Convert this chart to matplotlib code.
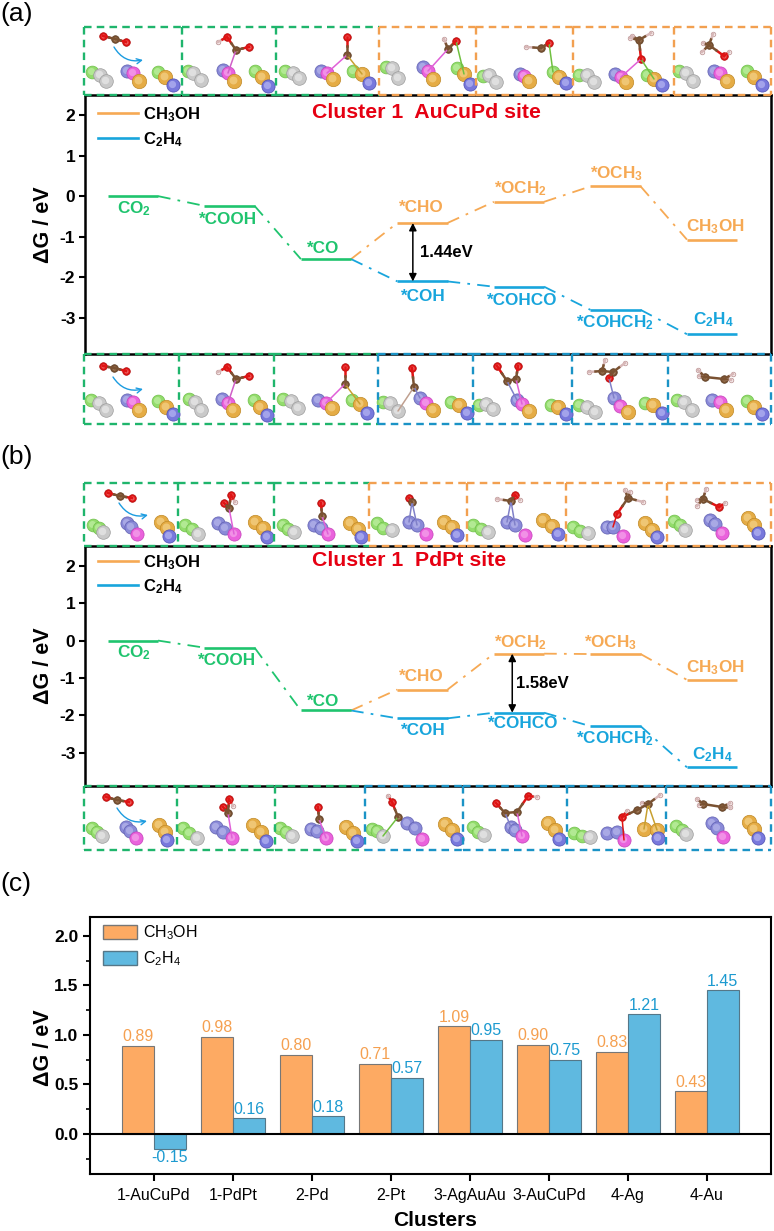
import matplotlib
matplotlib.use('Agg')
import matplotlib.pyplot as plt
from matplotlib.patches import Patch

plt.rcParams['font.family'] = ['Liberation Sans', 'DejaVu Sans']
plt.rcParams['mathtext.default'] = 'regular'

W, H = 774, 1231

# energy profiles (eV)
G_A_COMMON = [0.0, -0.24, -1.55]
G_A_CH3OH = [-0.66, -0.14, 0.24, -1.07]
G_A_C2H4 = [-2.10, -2.23, -2.80, -3.40]
G_B_COMMON = [0.0, -0.19, -1.87]
G_B_CH3OH = [-1.31, -0.35, -0.36, -1.05]
G_B_C2H4 = [-2.08, -1.93, -2.29, -3.39]

COMMON_NAMES = ['CO$_2$', '*COOH', '*CO']
CH3OH_NAMES = ['*CHO', '*OCH$_2$', '*OCH$_3$', 'CH$_3$OH']
C2H4_NAMES = ['*COH', '*COHCO', '*COHCH$_2$', 'C$_2$H$_4$']

# label offsets from the level centre, pixels, + is down
OFF_A_COMMON = [(1, 13), (-1.5, 14), (-3, -11)]
OFF_A_CH3OH = [(-1, -15), (1, -13), (1.5, -13), (3, -13)]
OFF_A_C2H4 = [(0.5, 15), (3, 14), (-0.5, 13), (1, -15)]
OFF_B_COMMON = [(1, 12), (-2.5, 13), (-3, -9)]
OFF_B_CH3OH = [(-1, -13), (1, -11), (-4.5, -11), (3, -12)]
OFF_B_C2H4 = [(0.5, 12), (4, 11), (-0.5, 12), (0, -13)]

# panel c
CLUSTERS = ['1-AuCuPd', '1-PdPt', '2-Pd', '2-Pt', '3-AgAuAu', '3-AuCuPd', '4-Ag', '4-Au']
DG_CH3OH = [0.89, 0.98, 0.80, 0.71, 1.09, 0.90, 0.83, 0.43]
DG_C2H4 = [-0.15, 0.16, 0.18, 0.57, 0.95, 0.75, 1.21, 1.45]

GREEN = '#1fc46e'
ORANGE = '#f6a954'
BLUE = '#18a5dc'
BOX_GREEN = '#1fb56c'
BOX_ORANGE = '#f2a050'
BOX_BLUE = '#1b93c6'

# dashed boxes round the structures: edges in pixels
A_TOP_EDGES = [84, 182, 276, 379, 476, 573, 674, 771]
A_BOT_EDGES = [84, 179, 274, 378, 473, 572, 668, 771]
B_TOP_EDGES = [84, 178, 274, 369, 467, 566, 667, 771]
B_BOT_EDGES = [84, 177, 275, 365, 463, 567, 666, 771]

# atom look: (face, rim, highlight, radius in px)
KINDS = {
    'g': ('#93dc6c', '#6fbf4a', '#cdf5b4', 6.4),
    's': ('#c9c9c9', '#9c9c9c', '#f2f2f2', 6.8),
    'p': ('#8a8ad8', '#5f5fb0', '#c4c4f0', 6.6),
    'm': ('#ea62dc', '#c440b8', '#f8b8f0', 6.6),
    'y': ('#e5ac45', '#c08a28', '#f8dc9c', 7.2),
    'b': ('#7878dc', '#4c4cb0', '#c8c8f8', 6.6),
    'C': ('#7a5232', '#5a3a20', '#c8a888', 3.8),
    'O': ('#e01414', '#b00808', '#f8a0a0', 3.8),
    'H': ('#f4e4e4', '#b89090', '#ffffff', 2.3),
}

A_TOP_METALS = [
    ('g', 92, 72), ('s', 100, 75), ('s', 106, 81), ('p', 127, 71), ('m', 133, 73), ('y', 139, 81),
    ('g', 158, 72), ('y', 165, 77), ('b', 173, 85),
    ('g', 188, 71), ('s', 193, 73), ('s', 201, 80), ('p', 223, 70), ('m', 228, 73), ('y', 234, 81),
    ('g', 255, 71), ('y', 262, 77), ('b', 268, 86),
    ('g', 285, 71), ('s', 293, 73), ('s', 299, 78), ('p', 321, 71), ('m', 327, 73), ('y', 333, 79),
    ('g', 353, 71), ('y', 362, 74), ('b', 369, 83),
    ('g', 386, 67), ('s', 392, 68), ('s', 398, 78), ('p', 423, 67), ('m', 428, 71), ('y', 433, 79),
    ('g', 457, 68), ('y', 464, 74), ('b', 470, 84),
    ('g', 483, 76), ('s', 489, 75), ('s', 496, 82), ('p', 520, 74), ('m', 524, 76), ('y', 529, 81),
    ('g', 553, 72), ('y', 559, 77), ('b', 566, 83),
    ('g', 579, 75), ('s', 587, 75), ('s', 594, 82), ('p', 615, 74), ('m', 621, 77), ('y', 626, 82),
    ('g', 647, 75), ('y', 654, 79), ('b', 662, 85),
    ('g', 679, 71), ('s', 686, 73), ('s', 693, 81), ('p', 714, 71), ('m', 720, 73), ('y', 727, 81),
    ('g', 747, 71), ('y', 754, 77), ('b', 762, 85),
]
A_TOP_ADS = [
    [('O', 103, 36), ('C', 115, 39), ('O', 126, 42)],
    [('H', 218, 42), ('O', 227, 37), ('C', 236, 50), ('O', 249, 47)],
    [('C', 347, 55), ('O', 347, 37)],
    [('C', 448, 49), ('O', 456, 41), ('H', 444, 39)],
    [('H', 526, 47), ('C', 541, 48), ('O', 549, 43)],
    [('O', 641, 59), ('C', 639, 40), ('H', 632, 36), ('H', 651, 33), ('H', 630, 38)],
    [('C', 709, 45), ('O', 724, 56), ('H', 713, 34), ('H', 703, 43), ('H', 729, 52), ('H', 702, 52)],
]
A_TOP_LINKS = [
    (236, 50, 228, 73, '#d060c8'), (347, 55, 327, 73, '#e060d8'), (347, 55, 362, 74, '#c8a030'),
    (448, 49, 428, 71, '#e060d8'), (456, 41, 464, 74, '#70c040'), (549, 43, 553, 72, '#70c040'),
    (641, 59, 621, 77, '#e060d8'), (641, 59, 654, 79, '#70c040'),
]

A_BOT_METALS = [
    ('g', 91, 400), ('s', 99, 403), ('s', 106, 410), ('p', 127, 400), ('m', 133, 402), ('y', 139, 410),
    ('g', 158, 401), ('y', 166, 407), ('b', 173, 414),
    ('g', 189, 399), ('s', 195, 402), ('s', 201, 410), ('p', 222, 399), ('m', 228, 403), ('y', 233, 410),
    ('g', 254, 400), ('y', 260, 407), ('b', 267, 415),
    ('g', 283, 399), ('s', 291, 401), ('s', 298, 408), ('p', 318, 400), ('m', 326, 403), ('y', 332, 408),
    ('g', 352, 400), ('y', 360, 404), ('b', 367, 413),
    ('g', 383, 402), ('s', 390, 403), ('s', 398, 411), ('p', 420, 398), ('m', 426, 403), ('y', 433, 410),
    ('g', 451, 402), ('y', 459, 405), ('b', 467, 413),
    ('g', 479, 405), ('s', 486, 404), ('s', 493, 409), ('p', 517, 400), ('m', 522, 404), ('y', 529, 411),
    ('g', 551, 405), ('y', 558, 407), ('b', 566, 414),
    ('g', 579, 405), ('s', 587, 407), ('s', 595, 412), ('p', 614, 398), ('m', 620, 406), ('y', 628, 412),
    ('g', 645, 403), ('y', 653, 405), ('b', 662, 413),
    ('g', 677, 400), ('s', 684, 402), ('s', 692, 410), ('p', 712, 400), ('m', 720, 402), ('y', 726, 410),
    ('g', 747, 401), ('y', 754, 407), ('b', 762, 414),
]
A_BOT_ADS = [
    [('O', 103, 366), ('C', 114, 368), ('O', 126, 371)],
    [('H', 218, 372), ('O', 227, 367), ('C', 236, 379), ('O', 249, 376)],
    [('C', 345, 384), ('O', 345, 367)],
    [('C', 414, 387), ('O', 412, 368)],
    [('C', 507, 381), ('C', 516, 379), ('O', 497, 366), ('O', 518, 366)],
    [('H', 589, 372), ('C', 602, 371), ('H', 605, 360), ('C', 613, 372), ('H', 625, 363), ('O', 609, 378)],
    [('H', 698, 370), ('H', 699, 376), ('C', 705, 377), ('C', 724, 379), ('H', 733, 374), ('H', 731, 380)],
]
A_BOT_LINKS = [
    (236, 379, 228, 403, '#d060c8'), (345, 384, 326, 403, '#e060d8'), (345, 384, 360, 404, '#c8a030'),
    (414, 387, 420, 398, '#8080c8'), (414, 387, 398, 411, '#c0a090'),
    (507, 381, 517, 400, '#8080c8'), (516, 379, 522, 404, '#e060d8'), (609, 378, 614, 398, '#8080c8'),
]

B_TOP_METALS = [
    ('g', 93, 525), ('g', 99, 528), ('s', 103, 532), ('p', 127, 523), ('p', 131, 527), ('m', 137, 534),
    ('y', 161, 522), ('y', 167, 528), ('b', 169, 536),
    ('g', 185, 525), ('g', 192, 529), ('s', 198, 534), ('p', 218, 523), ('p', 225, 528), ('m', 234, 534),
    ('y', 255, 522), ('y', 263, 528), ('b', 267, 537),
    ('g', 283, 525), ('g', 288, 529), ('s', 294, 532), ('p', 314, 525), ('p', 321, 528), ('m', 328, 534),
    ('y', 350, 523), ('y', 358, 529), ('b', 361, 537),
    ('g', 377, 523), ('g', 383, 528), ('s', 392, 530), ('p', 409, 522), ('p', 417, 525), ('m', 426, 534),
    ('y', 444, 522), ('y', 452, 527), ('b', 457, 535),
    ('g', 473, 525), ('g', 481, 529), ('s', 488, 532), ('p', 507, 522), ('p', 515, 525), ('m', 525, 535),
    ('y', 543, 520), ('y', 552, 526), ('b', 558, 534),
    ('g', 573, 527), ('g', 580, 531), ('s', 588, 533), ('p', 607, 527), ('p', 613, 527), ('m', 623, 536),
    ('y', 645, 523), ('y', 652, 530), ('b', 657, 537),
    ('g', 674, 521), ('g', 680, 525), ('s', 685, 530), ('p', 710, 520), ('p', 715, 524), ('m', 722, 533),
    ('y', 748, 518), ('y', 754, 525), ('b', 758, 533),
]
B_TOP_ADS = [
    [('O', 108, 493), ('C', 120, 496), ('O', 132, 498)],
    [('C', 229, 508), ('O', 224, 503), ('O', 231, 495), ('H', 235, 502)],
    [('C', 322, 516), ('O', 321, 503)],
    [('O', 409, 498), ('C', 412, 502)],
    [('H', 497, 499), ('C', 511, 501), ('H', 520, 500), ('O', 515, 495)],
    [('O', 617, 514), ('C', 628, 498), ('H', 625, 490), ('H', 643, 502), ('H', 630, 492)],
    [('C', 703, 499), ('O', 719, 507), ('H', 706, 489), ('H', 697, 500), ('H', 697, 506), ('H', 725, 503)],
]
B_TOP_LINKS = [
    (229, 508, 234, 534, '#e060d8'), (322, 516, 328, 534, '#e060d8'), (412, 502, 409, 522, '#8080c8'),
    (412, 502, 417, 525, '#8080c8'), (511, 501, 507, 522, '#8080c8'), (511, 501, 515, 525, '#8080c8'),
    (617, 514, 613, 527, '#e01414'),
]

B_BOT_METALS = [
    ('g', 92, 828), ('g', 97, 832), ('s', 102, 836), ('p', 126, 827), ('p', 130, 831), ('m', 136, 838),
    ('y', 159, 825), ('y', 165, 832), ('b', 167, 840),
    ('g', 183, 828), ('g', 189, 833), ('s', 197, 838), ('p', 216, 827), ('p', 223, 832), ('m', 232, 838),
    ('y', 253, 825), ('y', 261, 832), ('b', 266, 841),
    ('g', 280, 828), ('g', 286, 832), ('s', 292, 836), ('p', 311, 829), ('p', 317, 831), ('m', 326, 838),
    ('y', 346, 827), ('y', 353, 833), ('b', 357, 841),
    ('g', 372, 829), ('g', 377, 831), ('s', 383, 836), ('p', 407, 823), ('p', 415, 828), ('m', 422, 839),
    ('y', 445, 824), ('y', 452, 830), ('b', 457, 839),
    ('g', 473, 827), ('g', 478, 832), ('s', 484, 835), ('p', 511, 827), ('p', 515, 830), ('m', 522, 836),
    ('y', 548, 823), ('y', 555, 830), ('b', 559, 839),
    ('g', 574, 833), ('g', 582, 836), ('s', 590, 837), ('p', 607, 833), ('p', 617, 832), ('m', 624, 840),
    ('y', 644, 829), ('y', 657, 830), ('b', 658, 838),
    ('g', 676, 826), ('g', 682, 830), ('s', 686, 834), ('p', 712, 823), ('p', 717, 828), ('m', 723, 837),
    ('y', 749, 822), ('y', 754, 829), ('b', 758, 838),
]
B_BOT_ADS = [
    [('O', 106, 797), ('C', 117, 800), ('O', 129, 802)],
    [('C', 228, 813), ('O', 223, 807), ('O', 229, 799), ('H', 233, 806)],
    [('C', 319, 819), ('O', 318, 807)],
    [('C', 398, 817), ('O', 392, 802), ('H', 388, 796)],
    [('C', 505, 813), ('C', 517, 812), ('O', 496, 803), ('O', 528, 796), ('H', 537, 797)],
    [('O', 622, 817), ('C', 637, 810), ('C', 648, 804), ('H', 627, 811), ('H', 660, 795), ('H', 642, 803)],
    [('C', 703, 804), ('C', 722, 807), ('H', 697, 799), ('H', 699, 805), ('H', 730, 803), ('H', 730, 807)],
]
B_BOT_LINKS = [
    (228, 813, 232, 838, '#e060d8'), (319, 819, 326, 838, '#e060d8'), (398, 817, 383, 836, '#70c040'),
    (505, 813, 511, 827, '#8080c8'), (517, 812, 522, 836, '#e060d8'), (622, 817, 624, 840, '#e01414'),
    (648, 804, 644, 829, '#c8a030'), (648, 804, 657, 830, '#c8a030'),
]

# blue "adsorption" arrows on the first tile of each strip
ARROWS = [(114, 47, 143, 60), (113, 377, 143, 389), (119, 503, 148, 515), (117, 808, 147, 821)]


def px_axes(fig, left, top, right, bottom):
    return fig.add_axes([left / W, 1 - bottom / H, (right - left) / W, (bottom - top) / H])


def energy_panel(fig, box, ylim, common, ch3oh, c2h4, off_common, off_ch3oh, off_c2h4, legend_y, spacing):
    ax = px_axes(fig, *box)
    ax.set_xlim(-0.497, 6.611)
    ax.set_ylim(*ylim)
    half = 0.26
    steps_common = [0, 1, 2]
    steps_side = [3, 4, 5, 6]

    def levels(steps, values, color, names, offs):
        for s, v, name, (dx, dy) in zip(steps, values, names, offs):
            ax.plot([s - half, s + half], [v, v], color=color, lw=1.9, solid_capstyle='butt')
            ax.annotate(name, (s, v), xytext=(dx * 0.72, -dy * 0.72), textcoords='offset points',
                        ha='center', va='center', color=color, fontsize=12.3, fontweight='bold')

    def links(steps, values, color):
        for i in range(len(steps) - 1):
            ax.plot([steps[i] + half, steps[i + 1] - half], [values[i], values[i + 1]], color=color,
                    lw=1.3, linestyle=(0, (7, 4, 1.5, 4)))

    links(steps_common, common, GREEN)
    links([2] + steps_side, [common[2]] + ch3oh, ORANGE)
    links([2] + steps_side, [common[2]] + c2h4, BLUE)
    levels(steps_common, common, GREEN, COMMON_NAMES, off_common)
    levels(steps_side, ch3oh, ORANGE, CH3OH_NAMES, off_ch3oh)
    levels(steps_side, c2h4, BLUE, C2H4_NAMES, off_c2h4)

    ax.set_xticks([])
    ax.set_yticks([2, 1, 0, -1, -2, -3])
    ax.set_yticklabels(['2', '1', '0', '-1', '-2', '-3'], fontweight='bold', fontsize=12.5)
    ax.tick_params(axis='y', length=4, width=1.5, pad=3)
    for sp in ax.spines.values():
        sp.set_linewidth(1.8)
    ax.set_ylabel('ΔG / eV', fontweight='bold', fontsize=15.5)
    ax.yaxis.set_label_coords(-0.045, 0.5)

    handles = [plt.Line2D([], [], color=ORANGE, lw=1.9), plt.Line2D([], [], color=BLUE, lw=1.9)]
    ax.legend(handles, ['CH$_3$OH', 'C$_2$H$_4$'], frameon=False, loc='upper left',
              bbox_to_anchor=((98 - 85) / (box[2] - box[0]), legend_y), borderaxespad=0, borderpad=0,
              handlelength=2.4, handletextpad=0.3, labelspacing=spacing,
              prop={'weight': 'bold', 'size': 12})
    return ax


fig = plt.figure(figsize=(W / 100, H / 100), dpi=100)

ax_a = energy_panel(fig, (85, 95, 771, 354), (-3.887, 2.49), G_A_COMMON, G_A_CH3OH, G_A_C2H4,
                    OFF_A_COMMON, OFF_A_CH3OH, OFF_A_C2H4, 0.962, 0.4)
ax_b = energy_panel(fig, (85, 546, 771, 786), (-3.89, 2.53), G_B_COMMON, G_B_CH3OH, G_B_C2H4,
                    OFF_B_COMMON, OFF_B_CH3OH, OFF_B_C2H4, 0.97, 0.3)

# gap arrows
ax_a.annotate('', xy=(2.90, G_A_CH3OH[0]), xytext=(2.90, G_A_C2H4[0]),
              arrowprops=dict(arrowstyle='<|-|>', color='black', lw=1.1, shrinkA=0, shrinkB=0, mutation_scale=11))
ax_a.text(2.97, (G_A_CH3OH[0] + G_A_C2H4[0]) / 2, '1.44eV', fontweight='bold', fontsize=12, va='center')
ax_b.annotate('', xy=(3.93, G_B_CH3OH[1]), xytext=(3.93, G_B_C2H4[1]),
              arrowprops=dict(arrowstyle='<|-|>', color='black', lw=1.1, shrinkA=0, shrinkB=0, mutation_scale=11))
ax_b.text(3.97, (G_B_CH3OH[1] + G_B_C2H4[1]) / 2, '1.58eV', fontweight='bold', fontsize=12, va='center')

# panel c
ax_c = px_axes(fig, 90, 917, 771, 1174)
x = list(range(len(CLUSTERS)))
bars_o = ax_c.bar([i - 0.2 for i in x], DG_CH3OH, width=0.4, color='#fdaa63', edgecolor='#777777', lw=0.8)
bars_b = ax_c.bar([i + 0.2 for i in x], DG_C2H4, width=0.4, color='#5fb9e0', edgecolor='#557788', lw=0.8)
ax_c.bar_label(bars_o, labels=[f'{v:.2f}' for v in DG_CH3OH], color='#f5a050', fontsize=11.5, padding=1)
ax_c.bar_label(bars_b, labels=[f'{v:.2f}' for v in DG_C2H4], color='#1c9ad0', fontsize=11.5, padding=1)
ax_c.axhline(0, color='black', lw=1.5)
ax_c.set_xlim(-0.81, 7.81)
ax_c.set_ylim(-0.404, 2.19)
ax_c.set_xticks(x)
ax_c.set_xticklabels(CLUSTERS, fontsize=11.5)
ax_c.set_yticks([0, 0.5, 1.0, 1.5, 2.0])
ax_c.set_yticklabels(['0.0', '0.5', '1.0', '1.5', '2.0'], fontweight='bold', fontsize=12.5)
ax_c.set_yticks([-0.25, 0.25, 0.75, 1.25, 1.75], minor=True)
ax_c.tick_params(axis='x', which='major', length=5, width=1.5, pad=5)
ax_c.tick_params(axis='y', which='major', length=5, width=1.5)
ax_c.tick_params(axis='y', which='minor', length=3, width=1.2)
for sp in ax_c.spines.values():
    sp.set_linewidth(1.5)
ax_c.set_ylabel('ΔG / eV', fontweight='bold', fontsize=15.5)
ax_c.yaxis.set_label_coords(-0.053, 0.49)
ax_c.set_xlabel('Clusters', fontweight='bold', fontsize=15)
ax_c.xaxis.set_label_coords(0.506, -0.145)
ax_c.legend([Patch(facecolor='#fdaa63', edgecolor='#777777'), Patch(facecolor='#5fb9e0', edgecolor='#557788')],
            ['CH$_3$OH', 'C$_2$H$_4$'], frameon=False, loc='upper left', bbox_to_anchor=(13 / 681, 0.975),
            borderaxespad=0, borderpad=0, handlelength=2.1, handleheight=1.0, handletextpad=0.4, labelspacing=0.45,
            prop={'size': 11.5})

# overlay in pixel coordinates for the structure strips and free text
ov = fig.add_axes([0, 0, 1, 1], zorder=5)
ov.set_xlim(0, W)
ov.set_ylim(H, 0)
ov.axis('off')
ov.patch.set_alpha(0)

DASH = (0, (3.2, 2.2))


def atom(kind, px, py):
    face, rim, hi, r = KINDS[kind]
    ov.scatter([px], [py], s=(2 * r * 0.72) ** 2, color=face, edgecolors=rim, linewidths=0.5)
    ov.scatter([px - r * 0.12], [py - r * 0.12], s=(1.1 * r * 0.72) ** 2, color=hi, linewidths=0, alpha=0.55)


def bonds(tile):
    carbons = [a for a in tile if a[0] == 'C']
    heavy = [a for a in tile if a[0] != 'H']
    for kind, px, py in tile:
        if kind == 'C':
            for c in carbons:
                if c[1] > px and abs(c[1] - px) < 25:
                    ov.plot([px, c[1]], [py, c[2]], color=KINDS['C'][0], lw=1.8)
            continue
        pool = heavy if kind == 'H' else carbons
        other = min(pool, key=lambda a: (a[1] - px) ** 2 + (a[2] - py) ** 2)
        midx, midy = (px + other[1]) / 2, (py + other[2]) / 2
        ov.plot([px, midx], [py, midy], color=KINDS[kind][0] if kind != 'H' else '#d8b8b8', lw=1.8)
        ov.plot([midx, other[1]], [midy, other[2]], color=KINDS[other[0]][0], lw=1.8)


def strip(edges, top, bottom, n_green, low_color, metals, ads, bond_links):
    # n_green tiles are shared green, the rest take the branch colour
    colors = [BOX_GREEN if i < n_green else low_color for i in range(len(edges) - 1)]
    for i, c in enumerate(colors):
        ov.plot([edges[i], edges[i + 1]], [top, top], color=c, lw=1.7, linestyle=DASH)
        ov.plot([edges[i], edges[i + 1]], [bottom, bottom], color=c, lw=1.7, linestyle=DASH)
        ov.plot([edges[i], edges[i]], [top, bottom], color=c, lw=1.7, linestyle=DASH)
    ov.plot([edges[-1], edges[-1]], [top, bottom], color=colors[-1], lw=1.7, linestyle=DASH)
    for kind, ax_, ay_ in metals:
        atom(kind, ax_, ay_)
    for x0, y0, x1, y1, c in bond_links:
        ov.plot([x0, x1], [y0, y1], color=c, lw=1.1, solid_capstyle='round')
    for tile in ads:
        bonds(tile)
        for kind, ax_, ay_ in tile:
            atom(kind, ax_, ay_)


strip(A_TOP_EDGES, 27, 95, 3, BOX_ORANGE, A_TOP_METALS, A_TOP_ADS, A_TOP_LINKS)
strip(A_BOT_EDGES, 354, 424, 3, BOX_BLUE, A_BOT_METALS, A_BOT_ADS, A_BOT_LINKS)
strip(B_TOP_EDGES, 483, 546, 3, BOX_ORANGE, B_TOP_METALS, B_TOP_ADS, B_TOP_LINKS)
strip(B_BOT_EDGES, 786, 850, 3, BOX_BLUE, B_BOT_METALS, B_BOT_ADS, B_BOT_LINKS)

for x0, y0, x1, y1 in ARROWS:
    ov.annotate('', xy=(x1, y1), xytext=(x0, y0),
                arrowprops=dict(arrowstyle='->', color='#1c9ce0', lw=1.0, shrinkA=0, shrinkB=0,
                                connectionstyle='arc3,rad=0.35', mutation_scale=9))

ov.text(312, 112, 'Cluster 1  AuCuPd site', color='#e60012', fontweight='bold', fontsize=15.3, va='center')
ov.text(312, 561, 'Cluster 1  PdPt site', color='#e60012', fontweight='bold', fontsize=15.3, va='center')
for label, ly in [('(a)', 14), ('(b)', 457), ('(c)', 884)]:
    ov.text(0, ly, label, fontsize=19, va='center', ha='left')

fig.savefig('out.png', dpi=100)
